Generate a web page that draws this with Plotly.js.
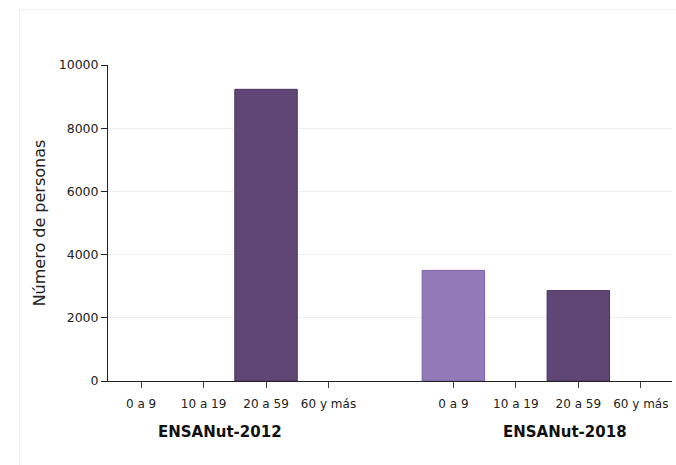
<!DOCTYPE html>
<html>
<head>
<meta charset="utf-8">
<script src="https://cdn.plot.ly/plotly-3.0.1.min.js"></script>
<style>
  html, body { margin: 0; padding: 0; background: #fff; }
  #chart { width: 676px; height: 465px; position: absolute; left: 0; top: 0; }
  #frame { position: absolute; left: 19px; top: 9px; width: 700px; height: 500px;
           border: 1px solid #eef0f2; pointer-events: none; box-sizing: border-box; }
</style>
</head>
<body>
<div id="chart"></div>
<div id="frame"></div>
<script>
// Data
const surveys = ["ENSANut-2012", "ENSANut-2018"];
const ageGroups = ["0 a 9", "10 a 19", "20 a 59", "60 y más"];
const values2012 = [0, 0, 9230, 0];
const values2018 = [3500, 0, 2860, 0];
const yTicks = [0, 2000, 4000, 6000, 8000, 10000];
const ageColors = ["#917ab7", "#917ab7", "#5f4675", "#5f4675"];
const ageLines = ["#7b5fac", "#7b5fac", "#4b3262", "#4b3262"];

const seriesValues = [values2012, values2018];
const groupStride = ageGroups.length + 1;

const xs = [], ys = [], cols = [], lcols = [], lw = [], tickvals = [], ticktext = [];
surveys.forEach((s, si) => {
  ageGroups.forEach((a, ai) => {
    const pos = si * groupStride + ai;
    const v = seriesValues[si][ai];
    xs.push(pos);
    ys.push(v);
    cols.push(ageColors[ai]);
    lcols.push(ageLines[ai]);
    lw.push(v > 0 ? 1 : 0);
    tickvals.push(pos);
    ticktext.push(a);
  });
});

const font = "DejaVu Sans, sans-serif";

const trace = {
  type: "bar",
  x: xs,
  y: ys,
  width: 1,
  marker: { color: cols, line: { color: lcols, width: lw } },
  hoverinfo: "x+y"
};

const lastPos = (surveys.length - 1) * groupStride + ageGroups.length - 1;

const layout = {
  width: 676, height: 465,
  margin: { l: 108, r: 4, t: 65, b: 84 },
  paper_bgcolor: "rgba(0,0,0,0)",
  plot_bgcolor: "rgba(0,0,0,0)",
  showlegend: false,
  font: { family: font, color: "#222", size: 12 },
  xaxis: {
    range: [-0.53, lastPos + 0.5],
    tickvals: tickvals,
    ticktext: ticktext,
    ticks: "outside", ticklen: 6, tickcolor: "#444", tickwidth: 1,
    ticklabelstandoff: 6,
    showline: true, linecolor: "#222", linewidth: 1,
    showgrid: false, zeroline: false,
    tickfont: { size: 12, color: "#222", family: font }
  },
  yaxis: {
    range: [0, 10000],
    tickvals: yTicks,
    ticktext: yTicks.map(String),
    ticks: "outside", ticklen: 6, tickcolor: "#222", tickwidth: 1,
    showline: true, linecolor: "#222", linewidth: 1,
    showgrid: true, gridcolor: "#e9eff2", gridwidth: 1,
    zeroline: false,
    tickfont: { size: 12.5, color: "#222", family: font },
    title: { text: "Número de personas", font: { size: 16, color: "#222", family: font }, standoff: 9 }
  },
  annotations: [
    { text: "<b>" + surveys[0] + "</b>", xref: "paper", yref: "paper",
      x: (220 - 108) / 564, y: -0.16, xanchor: "center", yanchor: "middle",
      showarrow: false, font: { size: 15, color: "#111", family: font } },
    { text: "<b>" + surveys[1] + "</b>", xref: "paper", yref: "paper",
      x: (565 - 108) / 564, y: -0.16, xanchor: "center", yanchor: "middle",
      showarrow: false, font: { size: 15, color: "#111", family: font } }
  ]
};

Plotly.newPlot("chart", [trace], layout, { displayModeBar: false, staticPlot: true });
</script>
</body>
</html>
